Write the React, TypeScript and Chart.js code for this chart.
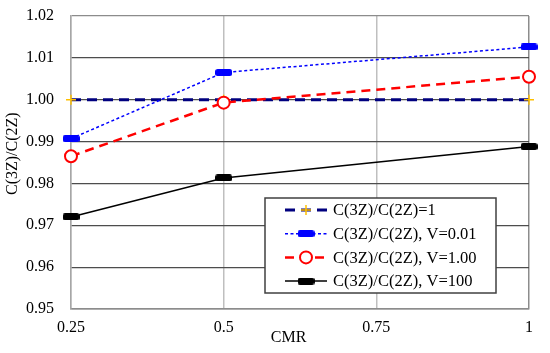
import React, { useEffect, useRef } from "react";
import { Chart, registerables } from "chart.js";

Chart.register(...registerables);

const cmr = [0.25, 0.5, 1];
const seriesLabels = [
  "C(3Z)/C(2Z)=1",
  "C(3Z)/C(2Z), V=0.01",
  "C(3Z)/C(2Z), V=1.00",
  "C(3Z)/C(2Z), V=100",
];
const ratioOne = [1.0, 1.0, 1.0];
const ratioV001 = [0.9907, 1.0065, 1.0126];
const ratioV100 = [0.9865, 0.9993, 1.0055];
const ratioV10000 = [0.972, 0.9813, 0.9888];
const xTicks = [0.25, 0.5, 0.75, 1];
const yMin = 0.95;
const yMax = 1.02;
const yStep = 0.01;
const xTitle = "CMR";
const yTitle = "C(3Z)/C(2Z)";

const FONT = "'Liberation Serif', 'DejaVu Serif', serif";

function barMarker(color: string): HTMLCanvasElement {
  const c = document.createElement("canvas");
  c.width = 17;
  c.height = 7;
  const ctx = c.getContext("2d")!;
  ctx.fillStyle = color;
  ctx.beginPath();
  const r = 2.5;
  const w = 17, h = 7;
  ctx.moveTo(r, 0);
  ctx.lineTo(w - r, 0);
  ctx.quadraticCurveTo(w, 0, w, r);
  ctx.lineTo(w, h - r);
  ctx.quadraticCurveTo(w, h, w - r, h);
  ctx.lineTo(r, h);
  ctx.quadraticCurveTo(0, h, 0, h - r);
  ctx.lineTo(0, r);
  ctx.quadraticCurveTo(0, 0, r, 0);
  ctx.fill();
  return c;
}

export default function App() {
  const ref = useRef<HTMLCanvasElement>(null);

  useEffect(() => {
    if (!ref.current) return;
    const blueBar = barMarker("#0000FF");
    const blackBar = barMarker("#000000");

    const styles = [
      { color: "#00007F", width: 3, dash: [10, 6], marker: "cross", mColor: "#FFC000" },
      { color: "#0000FF", width: 1.5, dash: [3, 2.5], marker: "blue", mColor: "#0000FF" },
      { color: "#FF0000", width: 2.5, dash: [9, 6], marker: "circle", mColor: "#FF0000" },
      { color: "#000000", width: 1.5, dash: [], marker: "black", mColor: "#000000" },
    ];
    const values = [ratioOne, ratioV001, ratioV100, ratioV10000];

    const datasets = values.map((vals, i) => {
      const s = styles[i];
      const base: any = {
        label: seriesLabels[i],
        data: vals.map((v, j) => ({ x: cmr[j], y: v })),
        borderColor: s.color,
        borderWidth: s.width,
        borderDash: s.dash,
        fill: false,
        tension: 0,
        clip: false,
        order: 4 - i,
      };
      if (s.marker === "cross") {
        base.pointStyle = "cross";
        base.pointRadius = 5;
        base.pointBorderColor = s.mColor;
        base.pointBorderWidth = 1.5;
        base.pointBackgroundColor = s.mColor;
      } else if (s.marker === "circle") {
        base.pointStyle = "circle";
        base.pointRadius = 6;
        base.pointBorderColor = s.mColor;
        base.pointBorderWidth = 2;
        base.pointBackgroundColor = "#FFFFFF";
      } else {
        base.pointStyle = s.marker === "blue" ? blueBar : blackBar;
        base.pointRadius = 8;
      }
      return base;
    });

    const legendPlugin = {
      id: "customLegend",
      afterDraw(chart: any) {
        const ctx = chart.ctx;
        const ca = chart.chartArea;
        const boxW = 231;
        const boxH = 95;
        const bx = ca.right - 33 - boxW;
        const by = ca.bottom - 16 - boxH;
        ctx.save();
        ctx.fillStyle = "#FFFFFF";
        ctx.fillRect(bx, by, boxW, boxH);
        ctx.strokeStyle = "#404040";
        ctx.lineWidth = 1.5;
        ctx.setLineDash([]);
        ctx.strokeRect(bx, by, boxW, boxH);
        const rowGap = 23.7;
        for (let i = 0; i < seriesLabels.length; i++) {
          const s = styles[i];
          const y = by + 12 + i * rowGap;
          const x0 = bx + 20;
          const x1 = bx + 62;
          const xm = (x0 + x1) / 2;
          ctx.strokeStyle = s.color;
          ctx.lineWidth = s.width;
          ctx.setLineDash(s.dash);
          ctx.beginPath();
          ctx.moveTo(x0, y);
          ctx.lineTo(x1, y);
          ctx.stroke();
          ctx.setLineDash([]);
          if (s.marker === "cross") {
            ctx.strokeStyle = s.mColor;
            ctx.lineWidth = 1.5;
            ctx.beginPath();
            ctx.moveTo(xm - 5, y);
            ctx.lineTo(xm + 5, y);
            ctx.moveTo(xm, y - 5);
            ctx.lineTo(xm, y + 5);
            ctx.stroke();
          } else if (s.marker === "circle") {
            ctx.fillStyle = "#FFFFFF";
            ctx.strokeStyle = s.mColor;
            ctx.lineWidth = 2;
            ctx.beginPath();
            ctx.arc(xm, y, 6, 0, Math.PI * 2);
            ctx.fill();
            ctx.stroke();
          } else {
            const img = s.marker === "blue" ? blueBar : blackBar;
            ctx.drawImage(img, xm - img.width / 2, y - img.height / 2);
          }
          ctx.fillStyle = "#000000";
          ctx.font = `16.5px ${FONT}`;
          ctx.textBaseline = "middle";
          ctx.textAlign = "left";
          ctx.fillText(seriesLabels[i], bx + 68, y + 1);
        }
        // axis titles
        ctx.fillStyle = "#000000";
        ctx.font = `16px ${FONT}`;
        ctx.textAlign = "center";
        ctx.textBaseline = "middle";
        ctx.fillText(xTitle, ca.left + (ca.right - ca.left) * 0.475, ca.bottom + 29);
        ctx.save();
        ctx.translate(13, ca.top + (ca.bottom - ca.top) * 0.47);
        ctx.rotate(-Math.PI / 2);
        ctx.fillText(yTitle, 0, 0);
        ctx.restore();
        ctx.restore();
      },
    };

    const chart = new Chart(ref.current, {
      type: "line",
      data: { datasets },
      options: {
        animation: false,
        responsive: true,
        maintainAspectRatio: false,
        layout: { padding: { top: 16, right: 21, left: 0, bottom: 0 } },
        plugins: {
          legend: { display: false },
          tooltip: { enabled: false },
        },
        scales: {
          x: {
            type: "linear",
            min: xTicks[0],
            max: xTicks[xTicks.length - 1],
            afterBuildTicks: (scale: any) => {
              scale.ticks = xTicks.map((v) => ({ value: v }));
            },
            afterFit: (scale: any) => {
              scale.height = 44;
              scale.paddingLeft = 0;
              scale.paddingRight = 0;
            },
            ticks: {
              font: { family: FONT, size: 16 },
              color: "#000000",
              padding: 9,
              maxRotation: 0,
              callback: (v: any) => String(v),
            },
            grid: {
              drawTicks: false,
              color: (c: any) => (c.tick && c.tick.value === 1 ? "#8C8C8C" : "#BFBFBF"),
              lineWidth: 1.5,
            },
            border: { color: "#8C8C8C", width: 1.5 },
          },
          y: {
            type: "linear",
            min: yMin,
            max: yMax,
            afterFit: (scale: any) => {
              scale.width = 71;
              scale.paddingTop = 0;
              scale.paddingBottom = 0;
            },
            ticks: {
              stepSize: yStep,
              font: { family: FONT, size: 16 },
              color: "#000000",
              padding: 17,
              callback: (v: any) => Number(v).toFixed(2),
            },
            grid: {
              drawTicks: false,
              color: (c: any) =>
                c.tick && Math.abs(c.tick.value - yMax) < 1e-6 ? "#8C8C8C" : "#4D4D4D",
              lineWidth: 1.2,
            },
            border: { color: "#A6A6A6", width: 1.5 },
          },
        },
      },
      plugins: [legendPlugin],
    });
    return () => chart.destroy();
  }, []);

  return (
    <div style={{ position: "fixed", left: 0, top: 0, width: 550, height: 353, background: "#fff" }}>
      <canvas ref={ref} />
    </div>
  );
}
